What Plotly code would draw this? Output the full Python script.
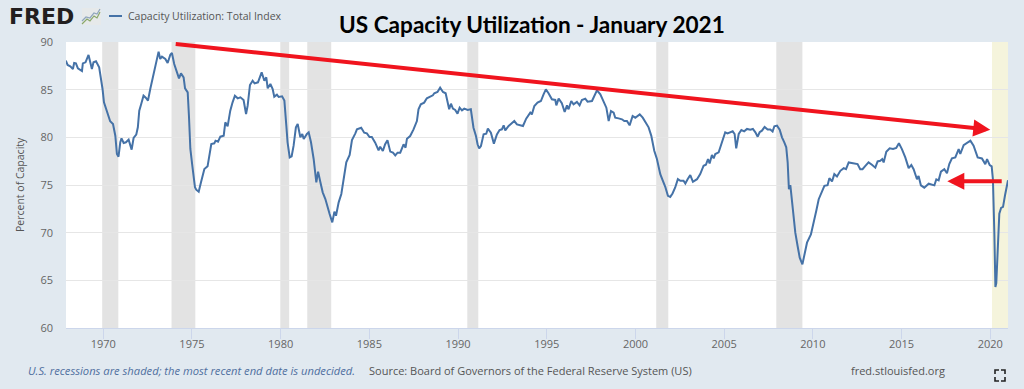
import plotly.graph_objects as go

W, H = 1024, 389
L, R, T, B = 66, 16, 42, 61

years = [1967.89,1967.99,1968.14,1968.29,1968.36,1968.46,1968.57,1968.80,1968.85,1969.00,1969.17,1969.36,1969.45,1969.59,1969.77,1969.89,1969.96,1970.04,1970.21,1970.39,1970.55,1970.68,1970.77,1970.86,1970.96,1971.03,1971.15,1971.28,1971.43,1971.60,1971.71,1971.86,1971.95,1972.03,1972.14,1972.27,1972.41,1972.52,1972.65,1972.78,1972.93,1973.12,1973.21,1973.31,1973.50,1973.63,1973.78,1973.87,1974.00,1974.12,1974.27,1974.38,1974.53,1974.61,1974.76,1974.83,1974.91,1975.02,1975.17,1975.24,1975.38,1975.51,1975.70,1975.88,1976.00,1976.09,1976.26,1976.33,1976.47,1976.60,1976.79,1976.88,1977.01,1977.16,1977.29,1977.42,1977.58,1977.73,1977.91,1978.05,1978.14,1978.27,1978.42,1978.53,1978.72,1978.93,1979.08,1979.19,1979.27,1979.42,1979.55,1979.64,1979.79,1979.89,1980.08,1980.21,1980.32,1980.39,1980.51,1980.62,1980.73,1980.86,1980.96,1981.11,1981.22,1981.30,1981.48,1981.58,1981.71,1981.86,1982.01,1982.11,1982.24,1982.37,1982.52,1982.61,1982.76,1982.91,1983.03,1983.12,1983.27,1983.42,1983.55,1983.70,1983.89,1984.02,1984.21,1984.30,1984.54,
1984.71,1984.86,1985.01,1985.14,1985.33,1985.52,1985.61,1985.76,1985.89,1986.02,1986.18,1986.33,1986.46,1986.59,1986.74,1986.93,1987.04,1987.12,1987.30,1987.49,1987.68,1987.77,1987.90,1988.09,1988.24,1988.43,1988.58,1988.66,1988.84,1988.99,1989.15,1989.30,1989.41,1989.50,1989.60,1989.71,1989.84,1989.97,1990.09,1990.22,1990.35,1990.54,1990.72,1990.87,1991.01,1991.10,1991.19,1991.29,1991.44,1991.59,1991.68,1991.85,1992.02,1992.19,1992.34,1992.47,1992.57,1992.66,1992.85,1993.04,1993.17,1993.32,1993.47,1993.66,1993.84,1994.07,1994.16,1994.30,1994.48,1994.67,1994.82,1994.95,1995.10,1995.29,1995.48,1995.54,1995.67,1995.85,1996.01,1996.14,1996.23,1996.38,1996.51,1996.70,1996.85,1996.98,1997.17,1997.30,1997.55,1997.74,1997.83,1998.02,1998.21,1998.36,1998.49,1998.62,1998.77,1998.86,1999.05,1999.24,1999.37,1999.52,1999.67,1999.84,1999.99,2000.24,
2000.41,2000.56,2000.74,2000.89,2001.06,2001.21,2001.40,2001.53,2001.68,2001.83,2001.96,2002.09,2002.24,2002.39,2002.53,2002.71,2002.81,2002.94,2003.09,2003.24,2003.47,2003.65,2003.84,2003.97,2004.09,2004.18,2004.31,2004.41,2004.50,2004.69,2004.88,2005.06,2005.19,2005.35,2005.48,2005.59,2005.68,2005.82,2005.97,2006.13,2006.29,2006.47,2006.62,2006.76,2006.89,2007.00,2007.13,2007.28,2007.45,2007.60,2007.73,2007.83,2007.98,2008.13,2008.26,2008.39,2008.50,2008.58,2008.65,2008.73,2008.82,2008.92,2009.01,2009.14,2009.26,2009.41,2009.52,2009.67,2009.89,2010.04,2010.19,2010.33,2010.51,2010.65,2010.83,2010.93,2011.08,2011.21,2011.36,2011.55,2011.74,2011.87,2012.02,2012.20,2012.39,2012.52,2012.67,2012.80,2012.96,2013.14,2013.33,2013.52,2013.65,2013.80,2013.91,2013.99,2014.14,2014.33,2014.52,2014.70,2014.85,2015.02,2015.21,2015.40,2015.55,2015.68,2015.87,2015.96,2016.09,2016.28,2016.53,2016.71,2016.85,2016.96,2017.09,2017.22,2017.41,2017.56,2017.69,2017.84,2018.03,2018.22,2018.31,2018.50,2018.69,2018.88,2019.06,2019.29,2019.53,2019.62,2019.72,2019.82,2019.97,2020.08,2020.15,2020.23,2020.29,2020.34,2020.42,2020.51,2020.61,2020.72,2020.83,2020.91,2021.00]

capacity = [88.04,87.59,87.45,87.17,87.80,87.76,87.24,86.96,87.76,87.87,88.64,87.17,87.87,87.97,87.34,85.94,85.07,83.67,82.80,81.68,81.40,80.17,78.25,77.97,79.48,79.90,79.41,79.48,79.76,78.71,79.93,80.28,81.05,82.80,83.50,84.37,84.13,83.85,85.07,86.12,87.52,88.99,88.22,88.46,88.22,87.80,88.67,88.85,87.69,86.92,86.19,86.71,86.29,85.14,84.72,82.27,78.78,77.03,74.76,74.51,74.30,75.28,76.68,76.96,78.25,79.30,79.37,79.65,79.55,80.07,80.17,81.57,81.15,82.80,83.67,84.37,84.09,84.20,83.92,82.45,83.32,85.49,85.94,85.66,85.77,86.82,85.94,86.29,85.14,85.59,85.07,84.27,84.48,84.23,84.30,83.85,81.22,79.48,77.90,78.01,79.13,81.05,81.40,80.00,80.35,79.83,80.35,80.52,79.48,77.73,75.28,76.40,75.28,74.23,73.53,72.83,71.96,71.08,72.20,71.78,73.18,74.06,75.45,77.38,78.15,79.72,80.42,80.84,81.01,
80.49,80.42,80.03,80.03,79.44,78.64,79.02,78.57,79.27,79.69,78.50,78.39,78.11,78.39,78.39,79.27,78.92,79.86,80.14,80.84,81.71,82.94,83.46,83.64,84.09,84.27,84.41,84.62,84.76,85.21,84.76,84.62,83.81,82.94,83.53,83.01,82.87,82.48,83.11,82.83,83.01,82.87,82.94,81.01,80.14,79.27,78.85,79.09,80.31,80.38,80.91,80.49,79.34,80.31,80.77,80.84,81.26,80.73,81.19,81.54,81.71,81.36,81.26,81.19,81.96,82.59,82.41,83.29,83.64,83.81,84.51,85.03,84.62,83.99,83.92,83.36,84.06,83.57,82.66,83.36,82.94,83.81,83.46,83.71,83.36,83.92,84.06,83.74,83.81,84.62,84.93,84.51,83.71,83.11,81.71,82.76,82.59,82.06,81.99,81.89,81.71,81.71,81.26,82.24,82.06,82.41,
82.06,81.54,81.05,80.18,78.60,77.72,76.14,75.51,74.81,73.86,73.75,74.11,74.74,75.61,75.44,75.44,75.16,75.61,76.04,75.33,75.61,76.14,77.02,77.12,77.72,77.26,78.14,77.79,78.25,78.42,79.47,80.53,80.42,80.53,80.63,80.35,78.84,80.35,80.77,80.63,80.88,80.81,80.88,80.53,80.07,80.53,80.70,81.09,80.81,80.81,80.60,81.16,81.23,80.81,80.00,79.47,78.95,77.37,74.56,74.98,73.51,71.40,70.00,68.60,67.37,66.67,67.72,68.95,69.82,71.23,72.28,73.51,74.39,74.91,74.98,75.72,75.37,76.14,75.89,76.49,76.77,76.67,77.37,77.30,77.19,77.19,76.65,76.65,77.00,77.37,77.12,76.82,77.47,77.54,77.72,77.37,78.49,78.84,78.77,78.88,79.37,78.77,77.89,76.77,77.09,76.65,75.60,75.95,74.96,74.72,75.14,75.00,74.96,75.60,75.49,76.40,76.65,76.23,77.19,77.79,77.89,78.77,78.25,79.19,79.47,79.65,79.12,77.89,77.79,77.47,77.19,77.72,77.09,76.95,75.60,70.00,64.30,64.70,69.00,72.00,72.60,72.70,73.90,74.70,75.50]

recession_start = [1969.94,1973.85,1979.98,1981.50,1990.52,2001.17,2007.94]
recession_end = [1970.85,1975.19,1980.48,1982.85,1991.14,2001.85,2009.41]
undecided_start = 2020.10
x_ticks = [1970,1975,1980,1985,1990,1995,2000,2005,2010,2015,2020]
y_ticks = [60,65,70,75,80,85,90]
series_name = "Capacity Utilization: Total Index"

def px(x): return (x - L) / (W - L - R)
def py(y): return 1 - (y - T) / (H - T - B)

GREY = "#666666"
SERIES = "#4572a7"
fig = go.Figure()
fig.add_trace(go.Scatter(x=years, y=capacity, mode="lines", name=series_name,
                         line=dict(color=SERIES, width=2), hoverinfo="skip"))

shapes = []
for a, b in zip(recession_start, recession_end):
    shapes.append(dict(type="rect", xref="x", yref="paper", x0=a, x1=b, y0=0, y1=1,
                       fillcolor="#e3e3e3", line_width=0, layer="between"))
shapes.append(dict(type="rect", xref="x", yref="paper", x0=undecided_start, x1=2021, y0=0, y1=1,
                   fillcolor="#f5f4dc", line_width=0, layer="between"))
# FRED icon
shapes.append(dict(type="rect", xref="paper", yref="paper", x0=px(82), x1=px(101), y0=py(25), y1=py(8),
                   fillcolor="#e6e9ea", line_width=0, layer="above"))
def poly(pts):
    return "M " + " L ".join(f"{px(a):.5f} {py(b):.5f}" for a, b in pts)
shapes.append(dict(type="path", xref="paper", yref="paper", layer="above",
                   path=poly([(82,24),(87,19),(90,21),(94,16),(97,18),(100,12)]),
                   line=dict(color="#8aa86a", width=1.2)))
shapes.append(dict(type="path", xref="paper", yref="paper", layer="above",
                   path=poly([(82,21),(86,17),(90,18),(94,13),(97,14),(100,9)]),
                   line=dict(color="#8fa5bd", width=1.2)))
# legend key
shapes.append(dict(type="line", xref="paper", yref="paper", x0=px(109), x1=px(122), y0=py(16), y1=py(16),
                   line=dict(color=SERIES, width=2), layer="above"))
# fullscreen icon
for p in [[(995,374),(995,370),(999,370)],[(1001,370),(1005,370),(1005,374)],
          [(995,377),(995,381),(999,381)],[(1001,381),(1005,381),(1005,377)]]:
    shapes.append(dict(type="path", xref="paper", yref="paper", path=poly(p), layer="above",
                       line=dict(color="#222222", width=1.6)))

def note(text, x, y, size, color, anchor="left", **kw):
    return dict(text=text, xref="paper", yref="paper", x=px(x), y=py(y), xanchor=anchor, yanchor="middle",
                showarrow=False, font=dict(family="Open Sans", size=size, color=color), **kw)

annotations = [
    dict(text="<b>FRED</b>", xref="paper", yref="paper", x=px(7), y=py(16), xanchor="left", yanchor="middle",
         showarrow=False, font=dict(family="DejaVu Sans", size=22, color="#231f20")),
    dict(text="<b>US Capacity Utilization - January 2021</b>", xref="paper", yref="paper", x=px(532), y=py(24),
         xanchor="center", yanchor="middle", showarrow=False,
         font=dict(family="Lato", size=22.6, color="#000000")),
    note(series_name, 126, 16, 10.5, "#555555"),
    note("<i>U.S. recessions are shaded; the most recent end date is undecided.</i>", 26, 370, 11.2, "#4f6f9f"),
    note("Source: Board of Governors of the Federal Reserve System (US)", 367, 370, 11, "#555555"),
    note("fred.stlouisfed.org", 849, 370, 11, "#555555"),
    note("Percent of Capacity", 20, 185, 10.5, "#555555", anchor="center", textangle=-90),
    dict(x=2020.0, y=80.8, ax=1974.0, ay=89.8, xref="x", yref="y", axref="x", ayref="y", text="", showarrow=True,
         arrowhead=2, arrowsize=0.85, arrowwidth=4, arrowcolor="#f0141e"),
    dict(x=2017.58, y=75.4, ax=2020.73, ay=75.4, xref="x", yref="y", axref="x", ayref="y", text="", showarrow=True,
         arrowhead=2, arrowsize=0.85, arrowwidth=4, arrowcolor="#f0141e"),
]

fig.update_layout(
    width=W, height=H, autosize=False,
    margin=dict(l=L, r=R, t=T, b=B, autoexpand=False),
    paper_bgcolor="#e1e9f0", plot_bgcolor="#ffffff",
    font=dict(family="Open Sans", size=11, color=GREY),
    showlegend=False,
    shapes=shapes, annotations=annotations,
    xaxis=dict(range=[1967.9, 2021.0], tickmode="array", tickvals=x_ticks, ticks="outside", ticklen=10,
               tickcolor="#ccd6eb", showgrid=False, showline=True, linecolor="#ccd6eb", zeroline=False,
               ticklabelstandoff=-4, tickfont=dict(size=11, color=GREY)),
    yaxis=dict(range=[60, 90], tickmode="array", tickvals=y_ticks, ticks="", showgrid=True, gridcolor="#e6e6e6",
               gridwidth=1, zeroline=False, showline=False, ticklabelstandoff=12,
               tickfont=dict(size=11, color=GREY)),
)
fig.write_html("out.html", config=dict(displayModeBar=False),
               post_script="document.body.style.margin='0';document.body.style.overflow='hidden';")
